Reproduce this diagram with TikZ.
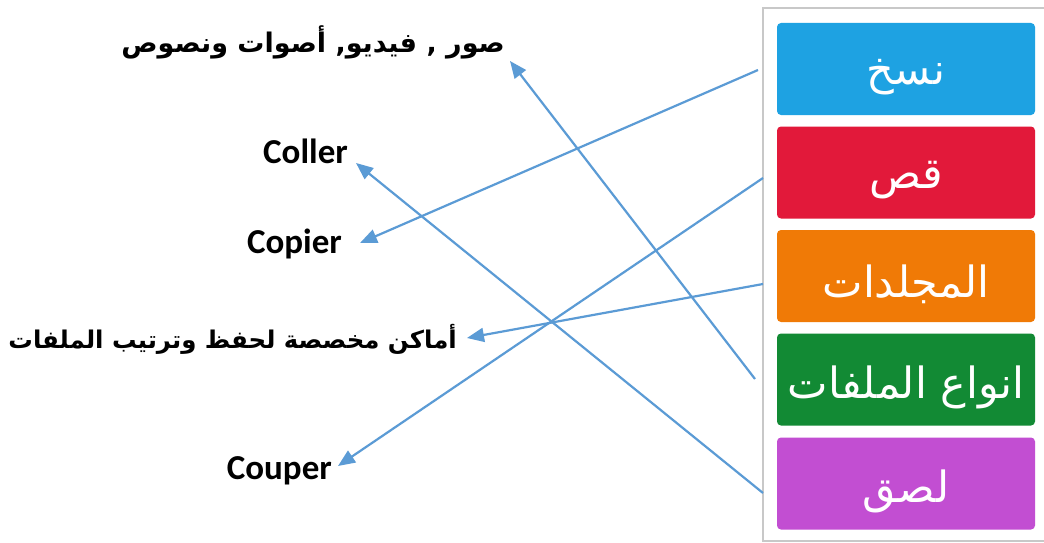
\documentclass[tikz,border=0pt]{standalone}
\usepackage{fontspec}
\setmainfont{Carlito}
\newfontfamily\arabicfont[Script=Arabic]{DejaVu Sans}
\TeXXeTstate=1
\usetikzlibrary{arrows.meta}
\definecolor{arrowblue}{HTML}{5B9BD5}
\definecolor{framegray}{HTML}{C8C8C8}
\definecolor{btnblue}{HTML}{1EA2E2}
\definecolor{btnred}{HTML}{E2193A}
\definecolor{btnorange}{HTML}{F07A06}
\definecolor{btngreen}{HTML}{128A34}
\definecolor{btnpurple}{HTML}{C24ED2}
\tikzset{
  btn/.style={rounded corners=4pt, minimum width=258pt, minimum height=92pt, inner sep=0pt},
  btnlbl/.style={text=white, inner sep=0pt, yshift=-8pt, font=\arabicfont\fontsize{43}{43}\selectfont},
  latlab/.style={anchor=base east, inner sep=0pt, font=\bfseries\fontsize{35}{35}\selectfont},
  arlab/.style={anchor=base east, inner sep=0pt, font=\arabicfont\bfseries\fontsize{27}{27}\selectfont},
  arr/.style={draw=arrowblue, line width=2.2pt, -{Triangle[length=17pt,width=14pt]}}
}
\begin{document}
\begin{tikzpicture}[x=1pt,y=-1pt]
\useasboundingbox (0,0) rectangle (1044,543);
\fill[white] (0,0) rectangle (1044,543);
\draw[framegray, line width=1.2pt] (763,8) rectangle (1052,541);
\node[btn, fill=btnblue,   label={[btnlbl]center:\beginR نسخ\endR}]           (nasakh) at (906,69)    {};
\node[btn, fill=btnred,    label={[btnlbl]center:\beginR قص\endR}]            (qas)    at (906,172.5) {};
\node[btn, fill=btnorange, label={[btnlbl]center:\beginR المجلدات\endR}]      (mujal)  at (906,276)   {};
\node[btn, fill=btngreen,  label={[btnlbl]center:\beginR انواع الملفات\endR}] (anwa)   at (906,379.5) {};
\node[btn, fill=btnpurple, label={[btnlbl]center:\beginR لصق\endR}]           (lasq)   at (906,483.5) {};
\node[arlab] (media)  at (505,53)  {\beginR صور , فيديو, أصوات ونصوص\endR};
\node[latlab] (coller) at (348,163) {Coller};
\node[latlab] (copier) at (342,253) {Copier};
\node[arlab, font=\arabicfont\bfseries\fontsize{24.4}{24.4}\selectfont] (places) at (457,348) {\beginR أماكن مخصصة لحفظ وترتيب الملفات\endR};
\node[latlab] (couper) at (332,479) {Couper};
\coordinate (s1) at (758,70);
\coordinate (s2) at (763,178);
\coordinate (s3) at (763,284);
\coordinate (s4) at (755,379);
\coordinate (s5) at (763,493);
\coordinate (t1) at (360,243);
\coordinate (t2) at (338,466);
\coordinate (t3) at (467,338);
\coordinate (t4) at (510,61);
\coordinate (t5) at (356,163);
\draw[arr] (s1) -- (t1);
\draw[arr] (s2) -- (t2);
\draw[arr] (s3) -- (t3);
\draw[arr] (s4) -- (t4);
\draw[arr] (s5) -- (t5);
\end{tikzpicture}
\end{document}
